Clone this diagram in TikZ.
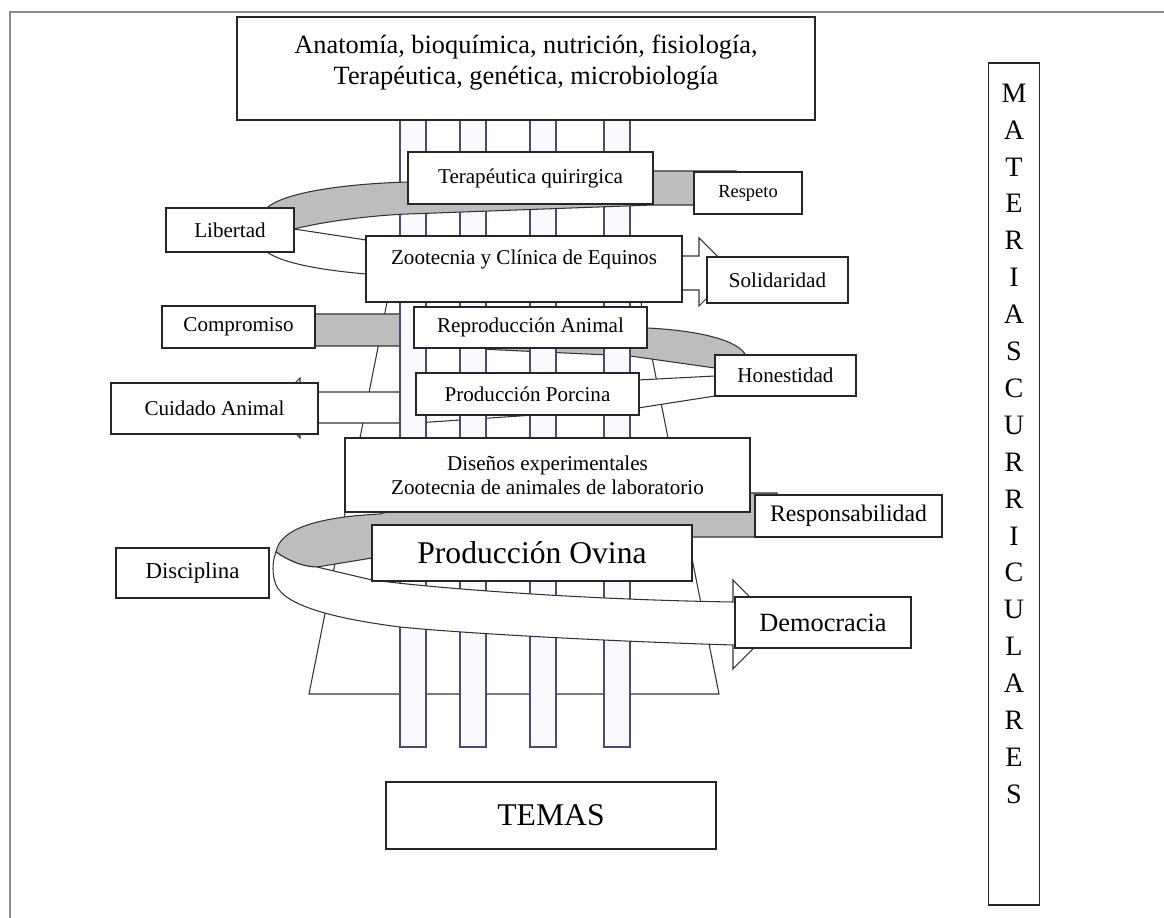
\documentclass[tikz,border=0pt]{standalone}
\usepackage{fontspec}
\setmainfont{Liberation Serif}
\usepackage{tikz}
\definecolor{bandgray}{HTML}{BDBDBD}
\definecolor{pillarline}{HTML}{4A4A78}
\definecolor{pillarfill}{HTML}{FAFAFE}
\definecolor{framegray}{HTML}{8C8C8C}

\begin{document}
\begin{tikzpicture}[x=0.02cm,y=-0.02cm]

\tikzset{
subjbox/.style={
draw=black!85,
line width=0.8pt,
fill=white,
inner sep=0pt,
align=center,
font=\fontsize{12}{14.5}\selectfont
},
valuebox/.style={
subjbox
},
backband/.style={
draw=black!80,
line width=0.6pt,
fill=bandgray
},
frontband/.style={
draw=black!80,
line width=0.6pt,
fill=white
},
pillar/.style={
draw=pillarline,
line width=0.6pt,
fill=pillarfill
},
trunk/.style={
draw=black!80,
line width=0.6pt,
fill=white
}
}

\useasboundingbox (0,0) rectangle (1164,918);

%--------------------------------------------------
% FRAME
%--------------------------------------------------

\draw[framegray,line width=0.8pt] (10,918) -- (10,12) -- (1164,12);

%--------------------------------------------------
% TRUNK AND MIDDLE BAND (behind the pillars)
%--------------------------------------------------

\draw[trunk] (395,262) -- (633,262) -- (719,694) -- (309,694) -- cycle;

\draw[backband] (300,314) -- (414,314) -- (640,318) -- (647,328)
  .. controls (690,330) and (735,338) .. (745,354)
  -- (715,368) -- (630,356) -- (414,346) -- (300,346) -- cycle;

\draw[frontband] (715,376) -- (638,380) -- (416,392) -- (300,392)
  -- (300,378) -- (270,408) -- (300,438) -- (300,423)
  -- (416,423) -- (638,408) -- (715,396) -- cycle;

%--------------------------------------------------
% PILLARS
%--------------------------------------------------

\draw[pillar] (400,120) rectangle (426,747);
\draw[pillar] (460,120) rectangle (486,747);
\draw[pillar] (530,120) rectangle (556,747);
\draw[pillar] (604,120) rectangle (630,747);

%--------------------------------------------------
% UPPER BAND
%--------------------------------------------------

\draw[backband] (736,171) -- (653,171) -- (408,182)
  .. controls (340,184) and (285,193) .. (268,207)
  -- (294,229)
  .. controls (330,220) and (380,215) .. (408,214)
  -- (653,205) -- (736,205) -- cycle;

\draw[frontband] (294,229) -- (366,240) -- (682,256) -- (699,256)
  -- (699,238) -- (733,272) -- (699,306) -- (699,290)
  -- (682,290) -- (366,274)
  .. controls (320,270) and (282,263) .. (267,252) -- cycle;

%--------------------------------------------------
% LOWER BAND
%--------------------------------------------------

\draw[backband] (777,493) -- (750,493) -- (400,508) -- (380,514)
  .. controls (320,517) and (280,528) .. (276,552)
  .. controls (290,562) and (305,567) .. (317,567)
  -- (372,558) -- (692,537) -- (777,537) -- cycle;

\draw[frontband] (276,552)
  .. controls (290,562) and (305,567) .. (317,567)
  -- (372,580)
  .. controls (450,590) and (600,600) .. (733,602)
  -- (733,580) -- (777,624.5) -- (733,669) -- (733,645)
  .. controls (600,641) and (460,633) .. (400,627)
  .. controls (330,618) and (285,605) .. (276,585)
  .. controls (272,575) and (272,562) .. (276,552) -- cycle;

%--------------------------------------------------
% SUBJECTS
%--------------------------------------------------

\node[subjbox,minimum width=11.56cm,minimum height=2.06cm,text depth=10pt,
  font=\fontsize{15}{17.1}\selectfont] (anat) at (526,68.5)
  {Anatomía, bioquímica, nutrición, fisiología,\\Terapéutica, genética, microbiología};

\node[subjbox,minimum width=4.9cm,minimum height=1.04cm] (terap) at (530.5,178) {Terapéutica quirirgica};

\node[subjbox,minimum width=6.32cm,minimum height=1.32cm,text depth=14pt] (zooequ) at (524,269) {Zootecnia y Clínica de Equinos};

\node[subjbox,minimum width=4.66cm,minimum height=0.82cm] (reprod) at (530.5,327.5) {Reproducción Animal};

\node[subjbox,minimum width=4.46cm,minimum height=0.84cm] (porcina) at (527.5,394) {Producción Porcina};

\node[subjbox,minimum width=8.1cm,minimum height=1.48cm,
  font=\fontsize{12}{13.7}\selectfont] (disenos) at (547.5,475)
  {Diseños experimentales\\Zootecnia de animales de laboratorio};

\node[subjbox,minimum width=6.4cm,minimum height=1.12cm,
  font=\fontsize{18}{21}\selectfont] (ovina) at (532,553) {Producción Ovina};

\node[subjbox,minimum width=6.6cm,minimum height=1.34cm,
  font=\fontsize{18}{21}\selectfont] (temas) at (551,815.5) {TEMAS};

\node[subjbox,minimum width=1.02cm,minimum height=16.84cm,text depth=46pt,
  font=\fontsize{16}{21}\selectfont] (materias) at (1014,484)
  {M\\A\\T\\E\\R\\I\\A\\S\\C\\U\\R\\R\\I\\C\\U\\L\\A\\R\\E\\S};

%--------------------------------------------------
% VALUES
%--------------------------------------------------

\node[valuebox,minimum width=2.16cm,minimum height=0.84cm,
  font=\fontsize{10.5}{12}\selectfont] (respeto) at (748,193) {Respeto};

\node[valuebox,minimum width=2.56cm,minimum height=0.88cm] (libertad) at (230,230) {Libertad};

\node[valuebox,minimum width=2.82cm,minimum height=0.92cm] (solid) at (777.5,280) {Solidaridad};

\node[valuebox,minimum width=3.06cm,minimum height=0.84cm] (comprom) at (238.5,327) {Compromiso};

\node[valuebox,minimum width=2.82cm,minimum height=0.82cm] (honest) at (785.5,375.5) {Honestidad};

\node[valuebox,minimum width=4.14cm,minimum height=1.02cm] (cuidado) at (214.5,408.5) {Cuidado Animal};

\node[valuebox,minimum width=3.74cm,minimum height=0.84cm,
  font=\fontsize{13.5}{16}\selectfont] (respons) at (848.5,516) {Responsabilidad};

\node[valuebox,minimum width=3.06cm,minimum height=1.0cm,
  font=\fontsize{13}{15.5}\selectfont] (discip) at (192.5,573) {Disciplina};

\node[valuebox,minimum width=3.52cm,minimum height=1.02cm,
  font=\fontsize{15}{18}\selectfont] (democ) at (823,622.5) {Democracia};

\end{tikzpicture}
\end{document}
